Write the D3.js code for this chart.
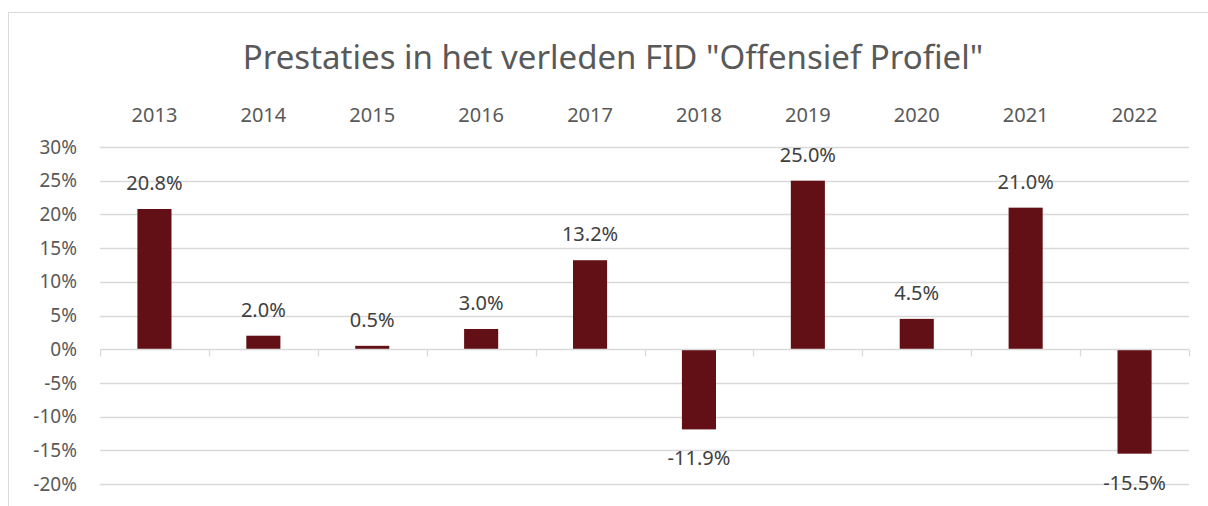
<!DOCTYPE html>
<html>
<head>
<meta charset="utf-8">
<script src="https://cdn.jsdelivr.net/npm/d3@7"></script>
<style>
  body { margin: 0; background: #fff; }
  text { font-family: "Source Sans Pro", "Noto Sans", sans-serif; }
</style>
</head>
<body>
<div id="chart-container"></div>
<script>
const years = ["2013", "2014", "2015", "2016", "2017", "2018", "2019", "2020", "2021", "2022"];
const returns = [20.8, 2.0, 0.5, 3.0, 13.2, -11.9, 25.0, 4.5, 21.0, -15.5];
const yTicks = [30, 25, 20, 15, 10, 5, 0, -5, -10, -15, -20];

const width = 1208, height = 506;
const plot = { left: 100, right: 1189, top: 147, bottom: 484 };

const svg = d3.select("#chart-container")
    .append("svg")
    .attr("width", width)
    .attr("height", height);

// chart frame (bottom and right fall outside the window)
svg.append("rect")
    .attr("x", 8.5).attr("y", 12.5)
    .attr("width", 1210).attr("height", 510)
    .attr("fill", "#fff")
    .attr("stroke", "#d9d9d9");

svg.append("text")
    .attr("x", 613)
    .attr("y", 69)
    .attr("text-anchor", "middle")
    .attr("font-size", "33px")
    .attr("fill", "#595959")
    .text("Prestaties in het verleden FID \"Offensief Profiel\"");

const x = d3.scaleBand()
    .domain(years)
    .range([plot.left, plot.right])
    .paddingInner(0.687)
    .paddingOuter(0.3435);

const band = d3.scaleBand().domain(years).range([plot.left, plot.right]);

const y = d3.scaleLinear()
    .domain([-20, 30])
    .range([plot.bottom, plot.top]);

// gridlines
svg.append("g")
    .selectAll("line")
    .data(yTicks.filter(d => d !== 0))
    .join("line")
    .attr("x1", plot.left).attr("x2", plot.right)
    .attr("y1", d => Math.round(y(d)) + 0.5)
    .attr("y2", d => Math.round(y(d)) + 0.5)
    .attr("stroke", "#d9d9d9")
    .attr("stroke-width", 1.3);

// y labels
svg.append("g")
    .selectAll("text")
    .data(yTicks)
    .join("text")
    .attr("x", 77)
    .attr("y", d => y(d))
    .attr("dy", "0.35em")
    .attr("text-anchor", "end")
    .attr("font-size", "19px")
    .attr("fill", "#595959")
    .text(d => d + "%");

// year labels at the top
svg.append("g")
    .selectAll("text")
    .data(years)
    .join("text")
    .attr("x", d => band(d) + band.bandwidth() / 2)
    .attr("y", 115)
    .attr("dy", "0.35em")
    .attr("text-anchor", "middle")
    .attr("font-size", "20px")
    .attr("fill", "#595959")
    .text(d => d);

// bars
svg.append("g")
    .selectAll("rect")
    .data(years)
    .join("rect")
    .attr("x", (d, i) => x(d))
    .attr("width", x.bandwidth())
    .attr("y", (d, i) => y(Math.max(0, returns[i])))
    .attr("height", (d, i) => Math.abs(y(returns[i]) - y(0)))
    .attr("fill", "#621016");

// zero axis with tick marks at category boundaries
const zeroY = Math.round(y(0)) + 0.5;
svg.append("line")
    .attr("x1", plot.left).attr("x2", plot.right)
    .attr("y1", zeroY).attr("y2", zeroY)
    .attr("stroke", "#d9d9d9")
    .attr("stroke-width", 1.3);

svg.append("g")
    .selectAll("line")
    .data(years.concat(["end"]))
    .join("line")
    .attr("x1", (d, i) => Math.round(i < years.length ? band(d) : plot.right) + 0.5)
    .attr("x2", (d, i) => Math.round(i < years.length ? band(d) : plot.right) + 0.5)
    .attr("y1", zeroY)
    .attr("y2", zeroY + 7)
    .attr("stroke", "#d9d9d9")
    .attr("stroke-width", 1.3);

// data labels
svg.append("g")
    .selectAll("text")
    .data(years)
    .join("text")
    .attr("x", d => band(d) + band.bandwidth() / 2)
    .attr("y", (d, i) => returns[i] >= 0 ? y(returns[i]) - 26 : y(returns[i]) + 29)
    .attr("dy", "0.35em")
    .attr("text-anchor", "middle")
    .attr("font-size", "20px")
    .attr("fill", "#404040")
    .text((d, i) => returns[i].toFixed(1) + "%");
</script>
</body>
</html>
